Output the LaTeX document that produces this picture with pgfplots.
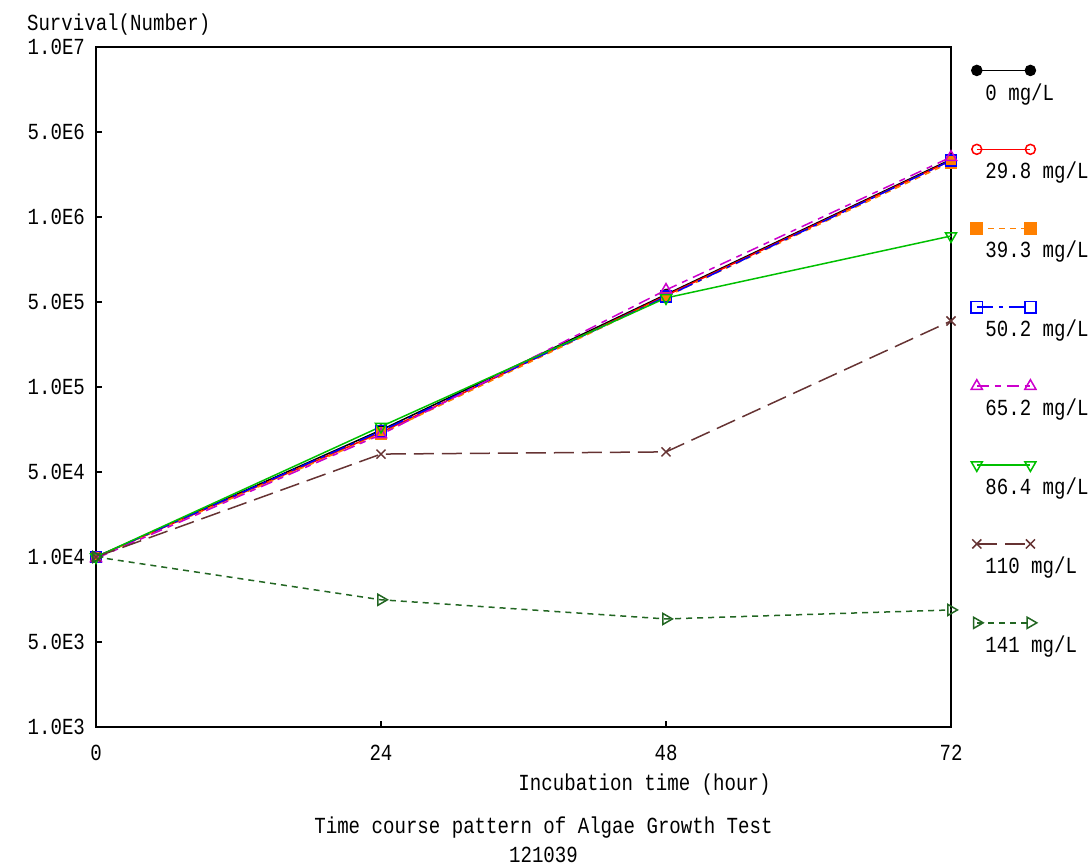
\documentclass[border=0pt]{standalone}
\usepackage{pgfplots}
\pgfplotsset{compat=1.18}
\usepackage{fontspec}
\setmainfont{Liberation Mono}[FakeStretch=0.83]

\definecolor{cRed}{RGB}{255,0,0}
\definecolor{cOrange}{RGB}{255,128,0}
\definecolor{cBlue}{RGB}{0,0,255}
\definecolor{cMagenta}{RGB}{204,0,204}
\definecolor{cGreen}{RGB}{0,192,0}
\definecolor{cBrown}{RGB}{102,51,51}
\definecolor{cDkGreen}{RGB}{34,102,34}

% legend sample: line with a mark at each end, text set below it
\pgfplotsset{
  endmarks/.style={legend image code/.code={
    \draw[##1, overlay] plot coordinates {(-4.3pt,11.5pt) (22.5pt,11.5pt)};
  }}
}

\begin{document}
\fontsize{11.5}{13}\selectfont
\begin{tikzpicture}
\begin{axis}[
    name=ax,
    scale only axis,
    width=427.5pt, height=340pt,
    ymode=log,
    xmin=0, xmax=72, ymin=1e3, ymax=1e7,
    xtick={0,24,48,72},
    xticklabels={0,24,48,72},
    ytick={1000,3162.28,10000,31622.8,100000,316228,1000000,3162280,10000000},
    yticklabels={1.0E3,5.0E3,1.0E4,5.0E4,1.0E5,5.0E5,1.0E6,5.0E6,1.0E7},
    minor ytick={},
    tick pos=left,
    tick align=inside,
    major tick length=3pt,
    axis line style={line width=1pt},
    every tick/.style={black, line width=0.6pt},
    yticklabel style={xshift=-1.5pt},
    xticklabel style={yshift=-5pt},
    xlabel={Incubation time (hour)},
    xlabel style={at={(rel axis cs:0.5,0)}, anchor=center, xshift=60.5pt, yshift=-29pt},
    ylabel={Survival(Number)},
    ylabel style={rotate=-90, at={(rel axis cs:0,1)}, anchor=west, xshift=-38.5pt, yshift=11pt},
    clip=false,
    legend cell align=left,
    legend style={
        at={(1,1)}, anchor=north west,
        xshift=17pt, yshift=-18pt,
        draw=none, fill=none,
        inner sep=0pt,
        row sep=29.4pt,
        column sep=0pt,
        nodes={inner sep=0pt},
    },
]

% 0 mg/L
\addplot[black, line width=0.75pt, mark=*, mark size=2.5pt, endmarks] coordinates {
    (0,10000) (24,55800) (48,350000) (72,2180000)
};
\addlegendentry{0 mg/L}

% 29.8 mg/L
\addplot[cRed, line width=0.75pt, mark=o, mark size=2.5pt, endmarks] coordinates {
    (0,10000) (24,54000) (48,345000) (72,2150000)
};
\addlegendentry{29.8 mg/L}

% 39.3 mg/L
\addplot[cOrange, line width=0.75pt, dash pattern=on 3pt off 2.5pt, mark=square*, mark size=2.8pt, mark options={solid}, endmarks] coordinates {
    (0,10000) (24,53000) (48,340000) (72,2100000)
};
\addlegendentry{39.3 mg/L}

% 50.2 mg/L
\addplot[cBlue, line width=0.75pt, dash pattern=on 8pt off 3pt on 2pt off 3pt, mark=square, mark size=2.8pt, mark options={solid}, endmarks] coordinates {
    (0,10000) (24,55000) (48,340000) (72,2150000)
};
\addlegendentry{50.2 mg/L}

% 65.2 mg/L
\addplot[cMagenta, line width=0.75pt, dash pattern=on 6pt off 3pt on 3pt off 3pt, mark=triangle, mark size=3.2pt, mark options={solid}, endmarks] coordinates {
    (0,9800) (24,52500) (48,372000) (72,2250000)
};
\addlegendentry{65.2 mg/L}

% 86.4 mg/L
\addplot[cGreen, line width=0.75pt, mark=triangle, mark size=3.2pt, mark options={rotate=180}, endmarks] coordinates {
    (0,10000) (24,58500) (48,334000) (72,773000)
};
\addlegendentry{86.4 mg/L}

% 110 mg/L
\addplot[cBrown, line width=0.75pt, dash pattern=on 10pt off 4pt, mark=x, mark size=3.2pt, mark options={solid}, endmarks] coordinates {
    (0,10000) (24,40300) (48,41500) (72,244500)
};
\addlegendentry{110 mg/L}

% 141 mg/L
\addplot[cDkGreen, line width=0.75pt, dash pattern=on 3pt off 2.5pt, mark=triangle, mark size=3.2pt, mark options={solid, rotate=-90}, endmarks] coordinates {
    (0,10000) (24,5600) (48,4320) (72,4880)
};
\addlegendentry{141 mg/L}

\node[align=center, anchor=north, inner sep=0pt, xshift=10pt, yshift=-44.5pt] at (rel axis cs:0.5,0)
    {Time course pattern of Algae Growth Test\\[1.5pt]121039};
\end{axis}
\pgfresetboundingbox
\path (ax.south west) ++(-48pt,-69pt) rectangle ++(544.5pt,432.5pt);
\end{tikzpicture}
\end{document}
